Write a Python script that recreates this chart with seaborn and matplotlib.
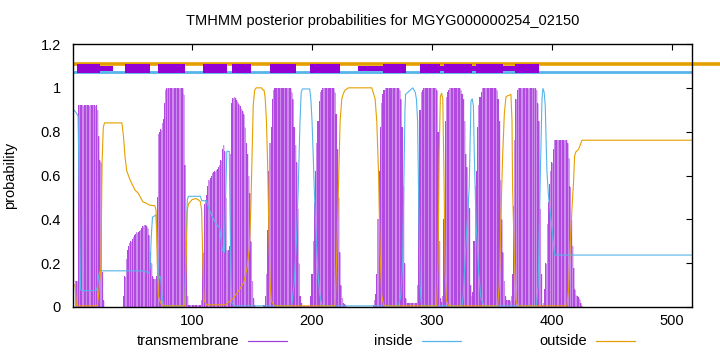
import numpy as np
import pandas as pd
import matplotlib
matplotlib.use("Agg")
import matplotlib.pyplot as plt
from matplotlib.lines import Line2D
import seaborn as sns

# ---------------- data ----------------
seq_len = 517
title = "TMHMM posterior probabilities for MGYG000000254_02150"
x_ticks = [100, 200, 300, 400, 500]
y_ticks = [0, 0.2, 0.4, 0.6, 0.8, 1.0, 1.2]
y_tick_labels = ["0", "0.2", "0.4", "0.6", "0.8", "1", "1.2"]

# transmembrane posterior, per residue, for the stretches where it is non-zero
tm_a_start = 3
tm_a = [0.12, 0.12, 0.92, 0.92, 0.92, 0.92, 0.92, 0.92, 0.92, 0.92, 0.92, 0.92,
        0.92, 0.92, 0.92, 0.92, 0.92, 0.92, 0.90, 0.78, 0.67, 0.66, 0.16, 0.03]
tm_b_start = 43
tm_b = [0.05, 0.14, 0.22, 0.26, 0.28, 0.29, 0.30, 0.31, 0.32, 0.33, 0.335, 0.34,
        0.34, 0.345, 0.35, 0.36, 0.37, 0.375, 0.375, 0.37, 0.36, 0.33, 0.25, 0.20,
        0.14, 0.13, 0.13, 0.14, 0.50, 0.79, 0.80, 0.81, 0.84, 0.86, 0.93, 0.99,
        1.0, 1.0, 1.0, 1.0, 1.0, 1.0, 1.0, 1.0, 1.0, 1.0, 1.0, 1.0, 1.0, 1.0,
        0.97, 0.65, 0.30, 0.05,
        0.01, 0.01, 0.01, 0.01, 0.01, 0.01, 0.01, 0.01, 0.01, 0.01, 0.01,
        0.03, 0.25, 0.47, 0.49, 0.51, 0.55, 0.58, 0.59, 0.60, 0.61, 0.615, 0.62,
        0.625, 0.63, 0.64, 0.65, 0.67, 0.72, 0.74, 0.71, 0.50, 0.26, 0.26, 0.28,
        0.70, 0.93, 0.955, 0.96, 0.955, 0.945, 0.935, 0.925, 0.915, 0.905, 0.895,
        0.88, 0.82, 0.75, 0.70, 0.60, 0.52, 0.30, 0.12, 0.04, 0.01]
tm_c_start = 160
tm_c = [0.01, 0.05, 0.15, 0.35, 0.62, 0.75, 0.82, 0.95, 0.99,
        1.0, 1.0, 1.0, 1.0, 1.0, 1.0, 1.0, 1.0, 1.0, 1.0, 1.0, 1.0, 1.0, 1.0,
        0.98, 0.95, 0.82, 0.74, 0.66, 0.45, 0.20, 0.05, 0.02,
        0.005, 0.005, 0.005, 0.005, 0.005, 0.005, 0.005,
        0.05, 0.15, 0.30, 0.48, 0.62, 0.75, 0.85, 0.94, 0.98, 0.99,
        1.0, 1.0, 1.0, 1.0, 1.0, 1.0, 1.0, 1.0, 1.0, 1.0,
        0.98, 0.88, 0.72, 0.50, 0.25, 0.10, 0.04, 0.02, 0.015, 0.01]
tm_d_start = 251
tm_d = [0.01, 0.03, 0.06, 0.15, 0.40, 0.62, 0.82, 0.93, 0.97, 0.99,
        1.0, 1.0, 1.0, 1.0, 1.0, 1.0, 1.0, 1.0, 1.0, 1.0, 1.0, 1.0,
        0.99, 0.95, 0.82, 0.55, 0.20, 0.04,
        0.02, 0.02, 0.02, 0.02, 0.02, 0.02, 0.02, 0.02, 0.02,
        0.10, 0.55, 0.90, 0.98, 0.99,
        1.0, 1.0, 1.0, 1.0, 1.0, 1.0, 1.0, 1.0, 1.0, 1.0, 1.0,
        0.99, 0.80, 0.30, 0.04, 0.025, 0.05, 0.40, 0.85, 0.96, 0.98, 0.99,
        1.0, 1.0, 1.0, 1.0, 1.0, 1.0, 1.0, 1.0, 1.0,
        0.99, 0.97, 0.95, 0.85, 0.70, 0.64, 0.50, 0.45, 0.10, 0.05, 0.07,
        0.30, 0.55, 0.62, 0.82, 0.92, 0.96, 0.98,
        1.0, 1.0, 1.0, 1.0, 1.0, 1.0, 1.0, 1.0, 1.0, 1.0, 1.0, 1.0,
        0.99, 0.95, 0.85, 0.58, 0.40, 0.25, 0.12, 0.05, 0.03, 0.03, 0.03, 0.03,
        0.05, 0.15, 0.46, 0.76, 0.95, 0.99,
        1.0, 1.0, 1.0, 1.0, 1.0, 1.0, 1.0, 1.0, 1.0, 1.0, 1.0, 1.0, 1.0, 1.0, 1.0,
        0.99, 0.93, 0.85, 0.45, 0.15, 0.01, 0.02, 0.08, 0.20, 0.38, 0.48, 0.56,
        0.62, 0.66, 0.72, 0.76,
        0.763, 0.763, 0.763, 0.763, 0.763, 0.763, 0.763, 0.763, 0.763, 0.763,
        0.75, 0.68, 0.55, 0.40, 0.28, 0.18, 0.08, 0.055, 0.05, 0.045, 0.035,
        0.02, 0.005]

# inside posterior (residue, value)
inside_res = [1, 3, 5, 6, 7, 8, 20, 21, 22, 23, 24, 58, 62, 64, 65, 66, 67, 70,
              71, 72, 73, 74, 75, 76, 77, 93, 94, 95, 96, 97, 107, 108, 112,
              114, 117, 120, 123, 124, 125, 127, 128, 129, 131, 132, 133, 135,
              183, 185, 187, 188.5, 190, 191, 192, 198, 199, 200, 201, 202,
              203.5, 205, 206.5, 208, 209, 272, 274, 275.5, 276.5, 277.5, 278,
              282, 284, 286, 287, 288, 289, 290, 291, 292, 325, 326, 327,
              328.5, 331, 332.5, 333.5, 334.5, 335.3, 336.7, 338.9, 340.8,
              343.6, 387, 388.5, 390.3, 391.7, 392.5, 393.5, 394.4, 395.8,
              397.2, 400, 402.2, 517]
inside_val = [0.90, 0.89, 0.87, 0.50, 0.08, 0.075, 0.075, 0.09, 0.14, 0.16,
              0.165, 0.165, 0.16, 0.155, 0.18, 0.32, 0.41, 0.42, 0.30, 0.12,
              0.14, 0.13, 0.05, 0.015, 0.005, 0.005, 0.03, 0.30, 0.49, 0.505,
              0.505, 0.485, 0.485, 0.45, 0.41, 0.38, 0.36, 0.32, 0.26, 0.25,
              0.50, 0.71, 0.71, 0.30, 0.02, 0.005, 0.005, 0.10, 0.30, 0.54,
              0.85, 0.98, 0.995, 0.995, 0.95, 0.85, 0.69, 0.52, 0.31, 0.15,
              0.055, 0.015, 0.005, 0.005, 0.05, 0.20, 0.55, 0.90, 0.97, 0.99,
              1.0, 0.98, 0.95, 0.85, 0.45, 0.10, 0.02, 0.005, 0.005, 0.05,
              0.15, 0.31, 0.54, 0.94, 0.95, 0.92, 0.69, 0.39, 0.16, 0.04,
              0.005, 0.005, 0.10, 0.60, 0.95, 0.997, 0.98, 0.92, 0.62, 0.50,
              0.36, 0.237, 0.237]

# outside posterior (residue, value)
outside_res = [1, 2.5, 3.5, 4, 20, 21, 22, 23, 24, 25, 26, 27, 41.5, 42.8, 44.2,
               45.6, 47.8, 49.7, 52.5, 55, 59, 62, 64.4, 69, 70, 71, 72, 73, 75,
               94, 95, 96, 97, 100, 103, 105, 107, 108, 109, 110, 112, 128, 130,
               134.4, 139, 143, 145.8, 147.8, 149, 150, 151, 152.2, 153.5, 158,
               159, 160, 161, 162, 163, 164, 165, 166, 168, 170, 219.3, 220.6,
               222, 223.4, 224.8, 226.2, 227.6, 230.4, 249.8, 252.6, 254,
               255.4, 256.8, 258.1, 259.6, 262, 304, 305, 306, 307, 308, 309,
               310, 311, 312, 314, 354.7, 356.1, 357.5, 358.9, 360.3, 361.7,
               365.8, 366.7, 367.2, 368.6, 370, 371.5, 412.5, 413.9, 415.3,
               416.7, 418, 418.9, 420, 422.2, 423.6, 425, 517]
outside_val = [0.10, 0.10, 0.01, 0.005, 0.005, 0.01, 0.05, 0.12, 0.18, 0.66,
               0.82, 0.84, 0.84, 0.78, 0.68, 0.62, 0.587, 0.564, 0.533, 0.52,
               0.48, 0.473, 0.465, 0.462, 0.44, 0.20, 0.05, 0.03, 0.005, 0.005,
               0.20, 0.44, 0.47, 0.49, 0.495, 0.49, 0.48, 0.44, 0.20, 0.03,
               0.01, 0.01, 0.02, 0.04, 0.075, 0.11, 0.176, 0.27, 0.45, 0.69,
               0.92, 0.99, 1.0, 1.0, 0.99, 0.99, 0.95, 0.85, 0.65, 0.35, 0.12,
               0.03, 0.01, 0.005, 0.005, 0.237, 0.54, 0.845, 0.95, 0.975, 0.99,
               1.0, 1.0, 0.95, 0.845, 0.617, 0.237, 0.055, 0.01, 0.005, 0.005,
               0.20, 0.70, 0.96, 0.975, 0.95, 0.60, 0.15, 0.03, 0.005, 0.005,
               0.10, 0.42, 0.69, 0.88, 0.96, 0.97, 0.85, 0.54, 0.24, 0.03,
               0.005, 0.005, 0.085, 0.30, 0.45, 0.57, 0.69, 0.708, 0.72, 0.739,
               0.761, 0.761]

# predicted topology shown on top of the plot (residue ranges)
helix_boxes = [(4, 23), (44, 65), (72, 94), (109, 129), (133, 149), (165, 187),
               (198, 223), (259, 278), (290, 307), (310, 333), (337, 359),
               (369, 389)]
helix_links = [(23, 34), (238, 259), (307, 310), (333, 337), (359, 369)]

# ---------------- plotting ----------------
sns.set_theme(style="white")
plt.rcParams["font.family"] = ["Liberation Sans", "DejaVu Sans"]
FS = 10.5

C_TM = "#9400d3"
C_IN = "#56b4e9"
C_OUT = "#e69f00"
C_BAR_DARK = "#b14ae0"
C_BAR_LIGHT = "#cd8cec"

fig = plt.figure(figsize=(7.2, 3.52), dpi=100)
ax = fig.add_axes([73.3 / 720, 1 - 307 / 352, (692.3 - 73.3) / 720, (307 - 44) / 352])

residues = np.arange(1, seq_len + 1)
tm = np.zeros(seq_len)
for start, vals in [(tm_a_start, tm_a), (tm_b_start, tm_b),
                    (tm_c_start, tm_c), (tm_d_start, tm_d)]:
    tm[start - 1:start - 1 + len(vals)] = vals

# light underlay so neighbouring impulses join without white seams
ax.fill_between(residues, tm, step="mid", color=C_BAR_LIGHT, linewidth=0,
                zorder=1.5)
bar_cols = [C_BAR_DARK if i % 3 != 2 else C_BAR_LIGHT for i in range(seq_len)]
ax.bar(residues, tm, width=0.9, color=bar_cols, linewidth=0, zorder=2)

df_in = pd.DataFrame({"res": inside_res, "p": inside_val})
df_out = pd.DataFrame({"res": outside_res, "p": outside_val})
sns.lineplot(data=df_in, x="res", y="p", ax=ax, color=C_IN, linewidth=0.8,
             estimator=None, sort=False, zorder=3)
sns.lineplot(data=df_out, x="res", y="p", ax=ax, color=C_OUT, linewidth=0.8,
             estimator=None, sort=False, zorder=4)

# topology strip
ax.plot([1, 540], [1.11, 1.11], color=C_OUT, lw=2.6, solid_capstyle="butt",
        clip_on=False, zorder=5)
ax.plot([1, seq_len], [1.07, 1.07], color=C_IN, lw=2.0, solid_capstyle="butt",
        zorder=5)
for s, e in helix_links:
    ax.fill_between([s, e], 1.077, 1.099, color=C_TM, linewidth=0, zorder=6)
for s, e in helix_boxes:
    ax.fill_between([s, e], 1.0657, 1.111, color=C_TM, linewidth=0, zorder=7)

ax.set_xlim(1, seq_len)
ax.set_ylim(0, 1.2)
ax.set_xticks(x_ticks)
ax.set_xticklabels([str(t) for t in x_ticks])
ax.set_yticks(y_ticks)
ax.set_yticklabels(y_tick_labels)
ax.tick_params(axis="both", direction="in", length=4, width=0.8, color="black",
               labelsize=FS, top=True, right=True, labelcolor="black")
ax.tick_params(axis="x", pad=5)
ax.tick_params(axis="y", pad=9)
for sp in ax.spines.values():
    sp.set_color("black")
    sp.set_linewidth(1.0)
    sp.set_zorder(10)
ax.set_xlabel("")
ax.set_ylabel("probability", fontsize=FS, color="black")
ax.yaxis.set_label_coords((16.7 - 73.3) / 619, 0.5)
ax.grid(False)

fig.text(383 / 720, 1 - 21 / 352, title, ha="center", va="center",
         fontsize=FS, color="black")

# legend below the plot
leg_y = 1 - 341 / 352
for txt, tx, lx0, lx1, col in [("transmembrane", 239, 248, 287, "#a040d8"),
                               ("inside", 413, 422, 461, C_IN),
                               ("outside", 587, 596, 635, C_OUT)]:
    fig.text(tx / 720, leg_y, txt, ha="right", va="center", fontsize=FS,
             color="black")
    fig.add_artist(Line2D([lx0 / 720, lx1 / 720], [leg_y, leg_y], color=col,
                          lw=0.9, transform=fig.transFigure))

fig.savefig("out.png", dpi=100)
